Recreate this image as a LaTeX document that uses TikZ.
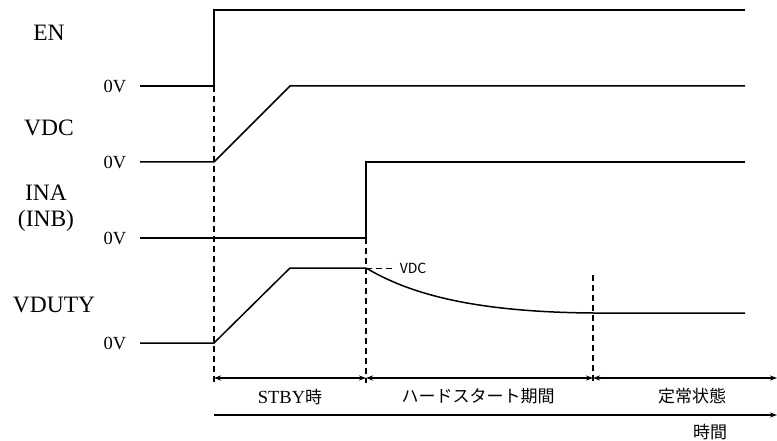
\documentclass[tikz,border=0pt]{standalone}
\usepackage{fontspec}
\setmainfont{Liberation Serif}
\newfontfamily\jpfont{Noto Sans CJK JP}
\usetikzlibrary{arrows.meta}

\begin{document}
\begin{tikzpicture}[x=1pt,y=-1pt,>={Stealth[length=7pt,width=5pt]},line width=1.5pt,
    sig label/.style={font=\fontsize{23.5}{26}\selectfont,align=center},
    zero label/.style={font=\fontsize{18.5}{20}\selectfont,anchor=east,inner sep=0pt},
    span label/.style={font=\jpfont\fontsize{17}{19}\selectfont},
    guide/.style={line width=1.2pt,dash pattern=on 6pt off 4pt}]

    \useasboundingbox (0,0) rectangle (777,441);

    % signal names
    \node[sig label] (en)    at (49,33)  {EN};
    \node[sig label] (vdc)   at (49,128) {VDC};
    \node[sig label] (ina)   at (46,208) {INA\\(INB)};
    \node[sig label] (vduty) at (54,305) {VDUTY};

    \node[zero label] (en0)    at (127,86)  {0V};
    \node[zero label] (vdc0)   at (127,162) {0V};
    \node[zero label] (ina0)   at (127,238) {0V};
    \node[zero label] (vduty0) at (127,343) {0V};

    % EN
    \coordinate (en a) at (140,86);
    \coordinate (en b) at (214,86);
    \coordinate (en c) at (214,10);
    \coordinate (en d) at (745,10);
    \draw (en a) -- (en b) -- (en c) -- (en d);

    % VDC
    \coordinate (vdc a) at (140,162);
    \coordinate (vdc b) at (214,162);
    \coordinate (vdc c) at (290,86);
    \coordinate (vdc d) at (745,86);
    \draw (vdc a) -- (vdc b) -- (vdc c) -- (vdc d);

    % INA
    \coordinate (ina a) at (140,238);
    \coordinate (ina b) at (366,238);
    \coordinate (ina c) at (366,162);
    \coordinate (ina d) at (745,162);
    \draw (ina a) -- (ina b) -- (ina c) -- (ina d);

    % VDUTY
    \coordinate (vduty a) at (140,343);
    \coordinate (vduty b) at (214,343);
    \coordinate (vduty c) at (290,268);
    \coordinate (vduty d) at (366,268);
    \coordinate (vduty e) at (593,313);
    \coordinate (vduty f) at (745,313);
    \draw (vduty a) -- (vduty b) -- (vduty c) -- (vduty d)
        .. controls (405,291) and (465,312) .. (vduty e) -- (vduty f);

    \coordinate (vdc ref) at (395,268);
    \draw[guide,line width=1pt] (vduty d) -- (vdc ref);
    \node[font=\jpfont\fontsize{14}{16}\selectfont,anchor=west,inner sep=1pt] (vdc lbl) at (398,268) {VDC};

    % guides
    \coordinate (t0) at (214,383);
    \coordinate (t1) at (366,383);
    \coordinate (t2) at (593,383);
    \coordinate (t3) at (777,378);
    \coordinate (t2 top) at (593,275);
    \draw[guide] (en b) -- (t0);
    \draw[guide] (ina b) -- (t1);
    \draw[guide] (t2 top) -- (t2);

    % periods
    \coordinate (p0) at (214,378);
    \coordinate (p1) at (366,378);
    \coordinate (p2) at (593,378);
    \draw[<->,line width=1.2pt] (p0) -- (p1);
    \draw[<->,line width=1.2pt] (p1) -- (p2);
    \draw[<->,line width=1.2pt] (p2) -- (t3);

    \node[font=\fontsize{18.5}{20}\selectfont] (stby) at (290,397) {STBY{\jpfont\fontsize{17}{19}\selectfont 時}};
    \node[span label] (hard)   at (478,396) {ハードスタート期間};
    \node[span label] (steady) at (692,396) {定常状態};

    % time axis
    \coordinate (ax a) at (214,415);
    \coordinate (ax b) at (777,415);
    \draw[->,line width=1.2pt] (ax a) -- (ax b);
    \node[span label] (time) at (710,432) {時間};

\end{tikzpicture}
\end{document}
